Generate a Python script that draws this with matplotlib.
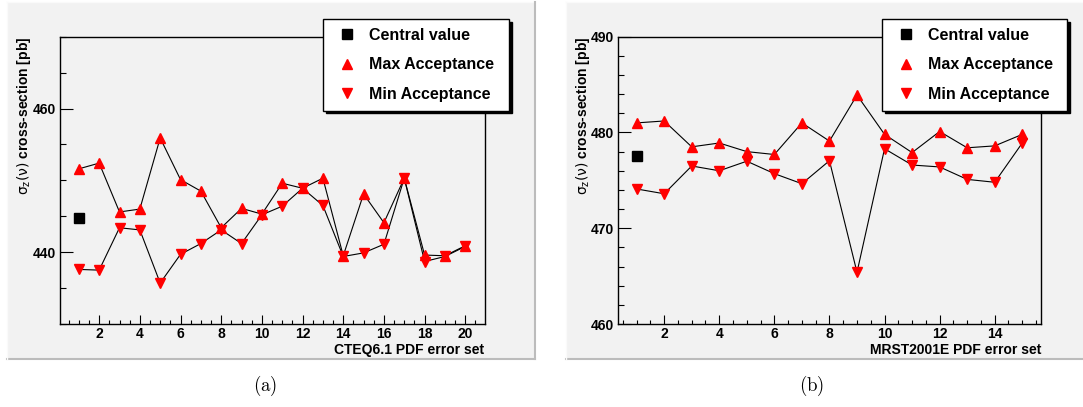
import numpy as np
import matplotlib
matplotlib.use("Agg")
from matplotlib import pyplot as plt
from matplotlib.patches import Rectangle
from matplotlib.lines import Line2D
from matplotlib.ticker import MultipleLocator

plt.rcParams['font.family'] = ['Liberation Sans', 'DejaVu Sans']
plt.rcParams['font.weight'] = 'bold'
plt.rcParams['mathtext.fontset'] = 'custom'
plt.rcParams['mathtext.rm'] = 'DejaVu Sans:weight=normal'
plt.rcParams['mathtext.it'] = 'DejaVu Sans:italic:weight=normal'

"""Data read off the two panels"""
cteq_set = np.arange(1, 21)
cteq_max = [451.6, 452.4, 445.6, 446.0, 455.9, 450.1, 448.5, 443.4, 446.1, 445.3,
            449.6, 448.9, 450.3, 439.5, 448.1, 444.1, 450.3, 439.6, 439.5, 440.9]
cteq_min = [437.6, 437.5, 443.4, 443.1, 435.7, 439.7, 441.2, 443.1, 441.2, 445.2,
            446.4, 448.9, 446.5, 439.4, 439.9, 441.1, 450.3, 438.7, 439.4, 440.8]
cteq_central = 444.7

mrst_set = np.arange(1, 16)
mrst_max = [481.0, 481.2, 478.5, 478.9, 478.0, 477.7, 481.0, 479.1, 483.9, 479.8,
            477.9, 480.1, 478.4, 478.6, 479.8]
mrst_min = [474.1, 473.6, 476.5, 476.0, 477.0, 475.7, 474.65, 477.05, 465.4, 478.3,
            476.6, 476.4, 475.1, 474.8, 478.9]
mrst_central = 477.5

W, H = 1083, 407
fig = plt.figure(figsize=(W / 100, H / 100), dpi=100)

bg = '#f2f2f2'


def px(x0, y0, x1, y1):
    """pixel box (top-left origin) -> figure fraction rect"""
    return [x0 / W, 1 - y1 / H, (x1 - x0) / W, (y1 - y0) / H]


def panel(x0, y0, x1, y1):
    r = px(x0, y0, x1, y1)
    fig.patches.append(Rectangle((r[0], r[1]), r[2], r[3], transform=fig.transFigure,
                                 facecolor=bg, edgecolor='none', zorder=-2))
    kw = dict(transform=fig.transFigure, zorder=-1)
    fig.lines.append(Line2D([x0 / W, x1 / W], [1 - y1 / H] * 2, color='#bcbcbc', lw=1.5, **kw))
    fig.lines.append(Line2D([x0 / W, x1 / W], [1 - y0 / H] * 2, color='#fafafa', lw=1.0, **kw))
    fig.lines.append(Line2D([x0 / W] * 2, [1 - y0 / H, 1 - y1 / H], color='#fafafa', lw=1.0, **kw))
    if x1 < W:
        fig.lines.append(Line2D([x1 / W] * 2, [1 - y0 / H, 1 - y1 / H], color='#bcbcbc',
                                lw=1.5, **kw))


panel(7, 2, 535, 359)
panel(566, 2, 1090, 359)


def draw(rect, x, ymax, ymin, central, xlim, ylim, ymaj, ymin_step, xlabel,
         ylab_x, leg_x0, leg_x1, tag, tag_x):
    ax = fig.add_axes(px(*rect))
    ax.set_facecolor(bg)
    ax.plot(x, ymax, color='k', lw=0.8, zorder=2)
    ax.plot(x, ymin, color='k', lw=0.8, zorder=2)
    ax.plot([1], [central], ls='none', marker='s', ms=7.5, color='k', mec='k',
            label='Central value', zorder=3)
    ax.plot(x, ymax, ls='none', marker='^', ms=6.5, color='red', mec='red',
            label='Max Acceptance', zorder=3)
    ax.plot(x, ymin, ls='none', marker='v', ms=6.5, color='red', mec='red',
            label='Min Acceptance', zorder=3)
    ax.set_xlim(*xlim)
    ax.set_ylim(*ylim)
    ax.xaxis.set_major_locator(MultipleLocator(2))
    ax.xaxis.set_minor_locator(MultipleLocator(0.5))
    ax.yaxis.set_major_locator(MultipleLocator(ymaj))
    ax.yaxis.set_minor_locator(MultipleLocator(ymin_step))
    ax.tick_params(axis='x', which='major', direction='in', length=6.2, width=0.8,
                   labelsize=10, pad=2.5)
    ax.tick_params(axis='x', which='minor', direction='in', length=3.1, width=0.8)
    ax.tick_params(axis='y', which='major', direction='in', length=9.2, width=0.8,
                   labelsize=10, pad=2.5)
    ax.tick_params(axis='y', which='minor', direction='in', length=4.6, width=0.8)
    for s in ax.spines.values():
        s.set_linewidth(1.0)
    ax.set_xlabel(xlabel, fontsize=10, fontweight='bold', loc='right', labelpad=1)
    fig.text(ylab_x / W, 1 - 37 / H, r'$\mathrm{\sigma_{z}(\nu)}$ cross-section [pb]',
             rotation=90, ha='center', va='top', fontsize=10, fontweight='bold')
    leg = ax.legend(loc='upper left', bbox_to_anchor=(leg_x0 / W, 1 - 19.3 / H,
                                                      (leg_x1 - leg_x0) / W, 0),
                    bbox_transform=fig.transFigure, mode='expand', fancybox=False,
                    edgecolor='k', framealpha=1, facecolor='white',
                    shadow={'facecolor': 'k', 'edgecolor': 'k', 'alpha': 1},
                    prop={'weight': 'bold', 'size': 11.5}, borderpad=0.55,
                    labelspacing=0.9, handlelength=1.9, handletextpad=0.43,
                    borderaxespad=0)
    leg.get_frame().set_linewidth(1.0)
    fig.text(tag_x / W, 1 - 386 / H, r'$\mathrm{(' + tag + ')}$', ha='center',
             va='center', fontsize=13.5, math_fontfamily='cm')
    return ax


draw((59.5, 36.7, 484.6, 324), cteq_set, cteq_max, cteq_min, cteq_central,
     (0.05, 20.95), (430, 470), 20, 5, 'CTEQ6.1 PDF error set', 24, 323.3, 509.3,
     'a', 265.5)
draw((617.9, 36.7, 1041, 324), mrst_set, mrst_max, mrst_min, mrst_central,
     (0.32, 15.68), (460, 490), 10, 2, 'MRST2001E PDF error set', 583, 882, 1067,
     'b', 812)

fig.savefig('out.png', dpi=100)
